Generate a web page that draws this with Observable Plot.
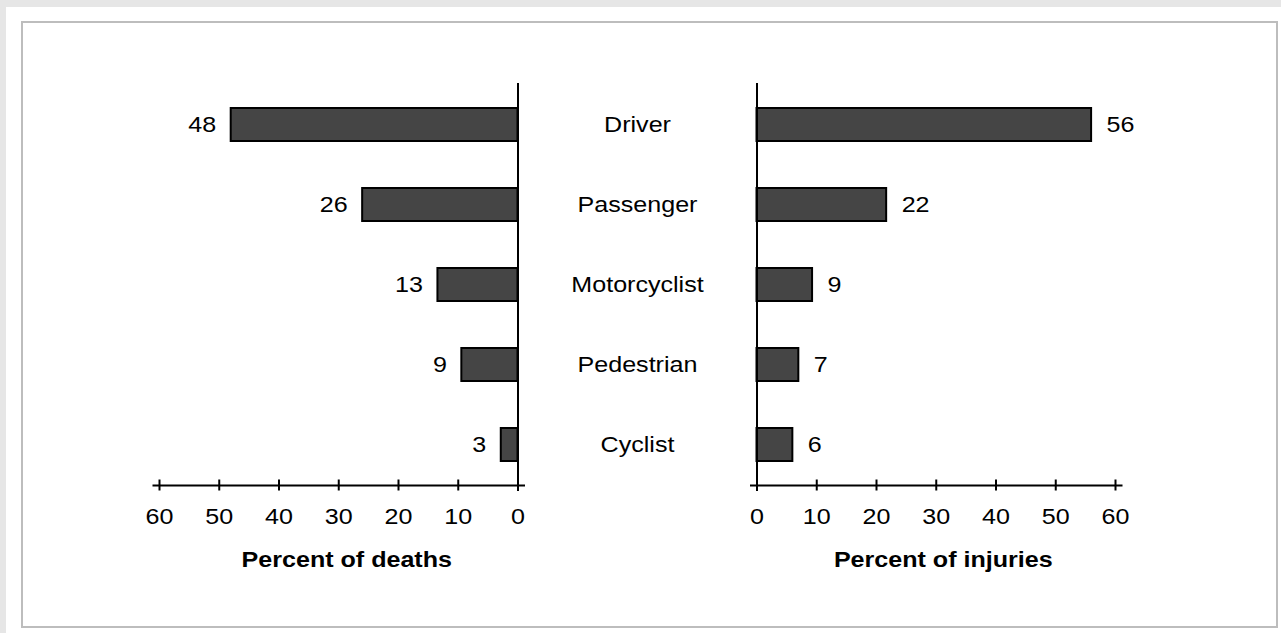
<!DOCTYPE html>
<html><head><meta charset="utf-8">
<script src="https://cdn.jsdelivr.net/npm/d3@7"></script>
<script src="https://cdn.jsdelivr.net/npm/@observablehq/plot@0.6"></script>
<style>
html,body{margin:0;padding:0;background:#e6e6e6;width:1281px;height:633px;overflow:hidden;position:relative;}
#card{position:absolute;left:6px;top:7px;width:1275px;height:626px;background:#fff;}
#box{position:absolute;left:21px;top:21px;width:1253px;height:603px;border:2px solid #bdbdbd;}
#left,#right{position:absolute;top:0;}
#left{left:0px}
#right{left:637px}
</style></head><body>
<div id="card"></div><div id="box"></div>
<div id="left"></div><div id="right"></div>
<script>
const categories = ["Driver", "Passenger", "Motorcyclist", "Pedestrian", "Cyclist"];
const deaths = [48, 26, 13.4, 9.4, 2.8];
const deathLabels = [48, 26, 13, 9, 3];
const injuries = [56, 21.7, 9.3, 7, 6];
const injuryLabels = [56, 22, 9, 7, 6];
const tickValues = [0, 10, 20, 30, 40, 50, 60];
const titles = ["Percent of deaths", "Percent of injuries"];

const rows = categories.map((c, i) => ({
  category: c, deaths: deaths[i], deathLabel: String(deathLabels[i]),
  injuries: injuries[i], injuryLabel: String(injuryLabels[i])
}));

const font = "'Liberation Sans', Arial, Helvetica, sans-serif";
const style = {fontFamily: font, fontSize: "22px", color: "#000", background: "transparent", overflow: "visible"};
const H = 633;

function stretch(svg, s) {
  svg.querySelectorAll("text").forEach(t => {
    const tr = t.getAttribute("transform");
    if (tr) t.setAttribute("transform", tr + ` scale(${s},1)`);
    else {
      const x = +t.getAttribute("x") || 0, y = +t.getAttribute("y") || 0;
      t.setAttribute("transform", `translate(${x},${y}) scale(${s},1) translate(${-x},${-y})`);
    }
  });
  return svg;
}

const left = Plot.plot({
  width: 637, height: H,
  marginLeft: 159, marginRight: 119.5, marginTop: 83, marginBottom: H - 485,
  style,
  x: {domain: [0, 60], reverse: true, axis: null, label: null},
  y: {domain: categories, paddingInner: 0.59, paddingOuter: 0.295, axis: null},
  marks: [
    Plot.barX(rows, {x: "deaths", y: "category", fill: "#454545", stroke: "#000", strokeWidth: 2}),
    Plot.ruleX([0], {stroke: "#000", strokeWidth: 2, insetBottom: -6}),
    Plot.frame({anchor: "bottom", stroke: "#000", strokeWidth: 2, insetLeft: -6, insetRight: -6}),
    Plot.axisX(tickValues, {anchor: "bottom", label: null, tickSize: 11, dy: -5.5, tickPadding: 17.5, strokeWidth: 2, stroke: "#000", fill: "#000", fontSize: 22}),
    Plot.text(rows, {x: "deaths", y: "category", text: "deathLabel", textAnchor: "end", dx: -15, fill: "#000"}),
    Plot.text(rows, {y: "category", text: "category", frameAnchor: "right", dx: 119.5, textAnchor: "middle", fill: "#000"}),
    Plot.text([titles[0]], {text: d => d, frameAnchor: "bottom", dy: 81, dx: 8, fontWeight: "bold", fill: "#000"})
  ]
});

const right = Plot.plot({
  width: 644, height: H,
  marginLeft: 119.5, marginRight: 166, marginTop: 83, marginBottom: H - 485,
  style,
  x: {domain: [0, 60], axis: null, label: null},
  y: {domain: categories, paddingInner: 0.59, paddingOuter: 0.295, axis: null},
  marks: [
    Plot.barX(rows, {x: "injuries", y: "category", fill: "#454545", stroke: "#000", strokeWidth: 2}),
    Plot.ruleX([0], {stroke: "#000", strokeWidth: 2, insetBottom: -6}),
    Plot.frame({anchor: "bottom", stroke: "#000", strokeWidth: 2, insetLeft: -6, insetRight: -6}),
    Plot.axisX(tickValues, {anchor: "bottom", label: null, tickSize: 11, dy: -5.5, tickPadding: 17.5, strokeWidth: 2, stroke: "#000", fill: "#000", fontSize: 22}),
    Plot.text(rows, {x: "injuries", y: "category", text: "injuryLabel", textAnchor: "start", dx: 15, fill: "#000"}),
    Plot.text([titles[1]], {text: d => d, frameAnchor: "bottom", dy: 81, dx: 7, fontWeight: "bold", fill: "#000"})
  ]
});

document.getElementById("left").appendChild(stretch(left, 1.14));
document.getElementById("right").appendChild(stretch(right, 1.14));
</script>
</body></html>
